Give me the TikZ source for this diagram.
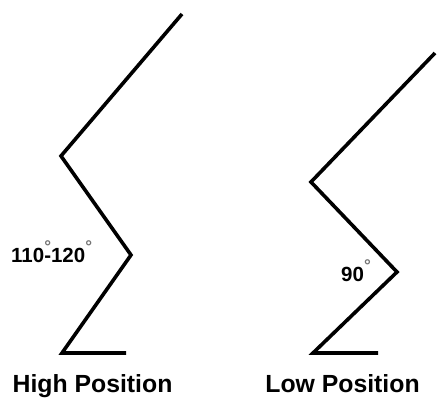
\documentclass[tikz,border=0pt]{standalone}
\usepackage{fontspec}
\setmainfont{Liberation Sans}
\newcommand{\degmark}{\raisebox{0.5em}{\fontsize{17}{17}\selectfont\bfseries\color{black!55}°}}
\begin{document}
\begin{tikzpicture}[x=1pt,y=-1pt,
  leg/.style={line width=3.6pt,line join=miter,black},
  angle/.style={font=\bfseries\fontsize{20.5}{20.5}\selectfont,inner sep=0pt,anchor=base west},
  title/.style={font=\bfseries\fontsize{24.8}{24.8}\selectfont,inner sep=0pt,anchor=base}]
\useasboundingbox[fill=white] (0,0) rectangle (437,398);
% High position
\coordinate (h1) at (182,14);
\coordinate (h2) at (61,156);
\coordinate (h3) at (131,255);
\coordinate (h4) at (62,353);
\coordinate (h5) at (126,353);
\draw[leg] (h1) -- (h2) -- (h3) -- (h4) -- (h5);
% Low position
\coordinate (l1) at (435,53);
\coordinate (l2) at (311,182);
\coordinate (l3) at (397,272);
\coordinate (l4) at (313,353);
\coordinate (l5) at (378,353);
\draw[leg] (l1) -- (l2) -- (l3) -- (l4) -- (l5);
% labels
\node[angle] (ha) at (11,263) {110\rlap{\degmark}-120\degmark};
\node[angle] (la) at (341,282) {90\degmark};
\node[title] (ht) at (92.5,392) {High Position};
\node[title] (lt) at (342.5,392) {Low Position};
\end{tikzpicture}
\end{document}
